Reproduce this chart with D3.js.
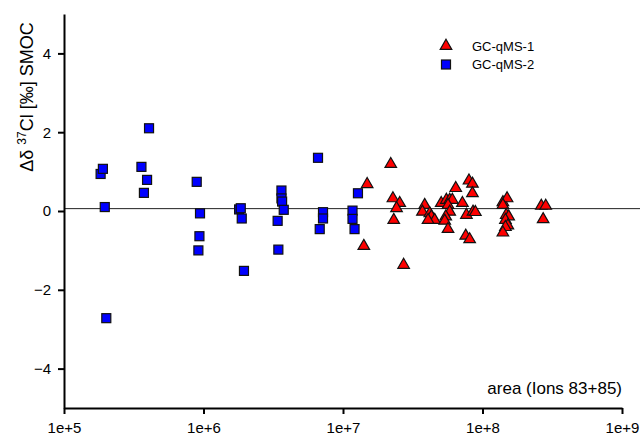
<!DOCTYPE html>
<html>
<head>
<meta charset="utf-8">
<script src="https://cdn.jsdelivr.net/npm/d3@7"></script>
<style>
  body { margin: 0; background: #fff; }
  svg { font-family: "Liberation Sans", Arial, sans-serif; }
  .axis path, .axis line { stroke: #000; stroke-width: 2px; }
  .axis text { font-size: 15px; fill: #000; }
</style>
</head>
<body>
<svg id="chart" width="640" height="436"></svg>
<script>
// GC-qMS-1 (red triangles): peak area, delta
const ms1Area = [1.41e7, 1.49e7, 2.20e7, 2.28e7, 2.55e7, 2.42e7, 2.31e7, 2.72e7,
  3.85e7, 3.71e7, 4.19e7, 4.30e7, 4.54e7, 4.07e7, 5.06e7, 5.51e7, 5.82e7, 6.08e7,
  6.43e7, 5.66e7, 5.82e7, 5.45e7, 5.36e7, 5.66e7, 7.18e7, 7.67e7, 8.55e7, 8.89e7,
  8.00e7, 8.47e7, 8.47e7, 7.58e7, 8.09e7, 1.40e8, 1.50e8, 1.40e8, 1.48e8, 1.54e8,
  1.46e8, 1.52e8, 1.46e8, 1.40e8, 2.64e8, 2.84e8, 2.72e8];
const ms1Delta = [-0.89, 0.68, 1.19, 0.32, 0.20, 0.07, -0.23, -1.37,
  0.15, -0.02, -0.06, -0.14, -0.23, -0.23, 0.20, 0.28, 0.28, 0.28,
  0.58, 0.15, -0.02, -0.14, -0.25, -0.46, 0.20, -0.10, -0.02, -0.03,
  0.77, 0.69, 0.45, -0.63, -0.72, 0.22, 0.32, 0.15, -0.10, -0.14,
  -0.23, -0.37, -0.41, -0.55, 0.13, 0.13, -0.21];

// GC-qMS-2 (blue squares)
const ms2Area = [1.83e5, 1.90e5, 1.96e5, 2.01e5, 3.59e5, 3.94e5, 3.74e5, 4.07e5,
  8.94e5, 9.44e5, 9.35e5, 9.19e5, 1.80e6, 1.85e6, 1.88e6, 1.95e6, 3.40e6, 3.44e6,
  3.62e6, 3.62e6, 3.66e6, 3.76e6, 6.62e6, 7.19e6, 7.19e6, 6.81e6, 1.17e7, 1.17e7,
  1.21e7, 1.28e7];
const ms2Delta = [0.94, 1.07, 0.10, -2.72, 1.12, 0.79, 0.46, 2.10,
  0.74, -0.06, -0.64, -1.00, 0.04, 0.07, -0.19, -1.52, -0.25, -0.98,
  0.52, 0.32, 0.24, 0.03, 1.35, -0.03, -0.19, -0.46, 0.01, -0.20,
  -0.46, 0.45];

const meanLine = 0.06;
const xTicks = [1e5, 1e6, 1e7, 1e8, 1e9];
const yTicks = [-4, -2, 0, 2, 4];
const seriesNames = ["GC-qMS-1", "GC-qMS-2"];

const svg = d3.select("#chart");
const margin = {top: 14, right: 18, bottom: 28, left: 64};
const width = 640 - margin.left - margin.right,
      height = 436 - margin.top - margin.bottom;

const x = d3.scaleLog().domain([1e5, 1e9]).range([margin.left, margin.left + width]);
const y = d3.scaleLinear().domain([-5, 5]).range([margin.top + height, margin.top]);

// reference line
svg.append("line")
    .attr("x1", x(1e5)).attr("x2", 640)
    .attr("y1", y(meanLine)).attr("y2", y(meanLine))
    .attr("stroke", "#222").attr("stroke-width", 1);

svg.append("g")
    .attr("class", "axis")
    .attr("transform", "translate(0," + (margin.top + height) + ")")
    .call(d3.axisBottom(x).tickValues(xTicks)
      .tickFormat(function(d) { return "1e+" + Math.round(Math.log10(d)); })
      .tickSize(6).tickSizeOuter(0).tickPadding(8));

svg.append("g")
    .attr("class", "axis")
    .attr("transform", "translate(" + margin.left + ",0)")
    .call(d3.axisLeft(y).tickValues(yTicks).tickSize(6).tickSizeOuter(0).tickPadding(7));

// y label
const ylab = svg.append("text")
    .attr("transform", "translate(33,97) rotate(-90)")
    .attr("text-anchor", "middle")
    .style("font-size", "18px")
    .attr("fill", "#000");
ylab.append("tspan").text("\u0394\u03B4 ");
ylab.append("tspan").attr("dy", -7).style("font-size", "12px").text("37");
ylab.append("tspan").attr("dy", 7).text("Cl [\u2030] SMOC");

svg.append("text")
    .attr("x", x(1e9)).attr("y", 394)
    .attr("text-anchor", "end")
    .style("font-size", "17px")
    .text("area (Ions 83+85)");

const ms1 = ms1Area.map(function(a, i) { return {area: a, delta: ms1Delta[i]}; });
const ms2 = ms2Area.map(function(a, i) { return {area: a, delta: ms2Delta[i]}; });

const tri = d3.symbol().type(d3.symbolTriangle).size(58);
const sq = 9;

svg.append("g").selectAll("rect")
    .data(ms2)
  .enter().append("rect")
    .attr("x", function(d) { return x(d.area) - sq / 2; })
    .attr("y", function(d) { return y(d.delta) - sq / 2; })
    .attr("width", sq).attr("height", sq)
    .attr("fill", "#0000ff").attr("stroke", "#111").attr("stroke-width", 1.2);

svg.append("g").selectAll("path")
    .data(ms1)
  .enter().append("path")
    .attr("d", tri)
    .attr("transform", function(d) { return "translate(" + x(d.area) + "," + y(d.delta) + ")"; })
    .attr("fill", "#ff0000").attr("stroke", "#111").attr("stroke-width", 1.2);

// legend
const legend = svg.append("g").attr("transform", "translate(446,46)");
legend.append("path").attr("d", tri)
    .attr("fill", "#ff0000").attr("stroke", "#111").attr("stroke-width", 1.2);
legend.append("rect").attr("x", -sq / 2).attr("y", 18.5 - sq / 2)
    .attr("width", sq).attr("height", sq)
    .attr("fill", "#0000ff").attr("stroke", "#111").attr("stroke-width", 1.2);
legend.selectAll("text")
    .data(seriesNames)
  .enter().append("text")
    .attr("x", 26)
    .attr("y", function(d, i) { return i * 18.5; })
    .attr("dy", "0.35em")
    .style("font-size", "13px")
    .text(function(d) { return d; });
</script>
</body>
</html>
